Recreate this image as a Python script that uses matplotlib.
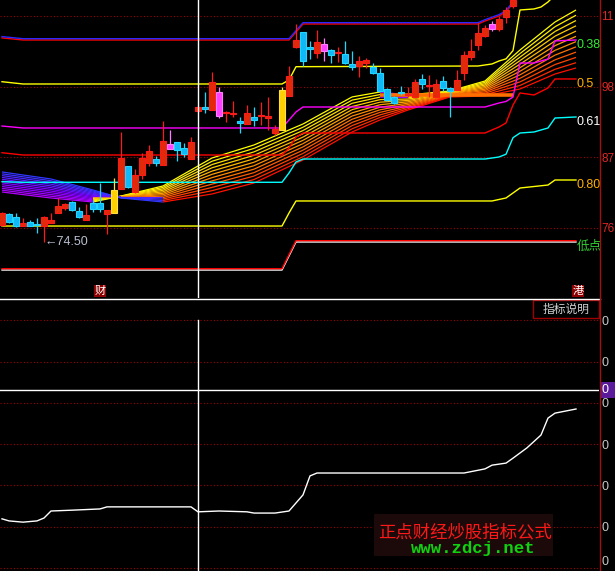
import numpy as np
import matplotlib
matplotlib.use("Agg")
import matplotlib.pyplot as plt
import matplotlib.transforms as mtransforms
from matplotlib.collections import LineCollection
from matplotlib.patches import Rectangle
from matplotlib.lines import Line2D

plt.rcParams['font.family'] = ['DejaVu Sans', 'Noto Sans CJK SC']
MONO = ['Liberation Mono', 'DejaVu Sans Mono', 'Noto Sans CJK SC']
NUM = ['Liberation Sans', 'DejaVu Sans', 'Noto Sans CJK SC']

# ---- candles (price) ----
opens = [77.17, 78.90, 78.43, 77.01, 77.64, 77.20, 77.01, 77.49, 79.06, 79.85,
         80.79, 79.37, 77.96, 80.63, 80.63, 78.90, 79.06, 82.83, 86.45, 82.36,
         85.04, 86.92, 87.55, 86.61, 89.13, 90.23, 89.29, 87.55, 95.10, 95.73,
         95.26, 98.09, 94.79, 94.63, 93.53, 93.06, 94.16, 94.32, 94.00, 91.64,
         92.12, 97.46, 105.17, 107.53, 105.17, 104.23, 104.54, 104.70, 104.23, 104.07,
         102.50, 102.18, 102.65, 102.03, 101.08, 98.56, 97.31, 97.94, 97.60, 97.31,
         100.14, 99.00, 97.31, 99.82, 98.72, 98.41, 101.08, 103.60, 105.49, 106.90,
         108.00, 108.00, 109.89, 111.62]
highs = [79.20, 79.06, 79.06, 78.27, 77.96, 78.27, 78.59, 79.06, 81.42, 80.63,
         80.90, 80.00, 80.48, 81.10, 83.78, 79.60, 84.57, 91.80, 86.50, 85.98,
         88.50, 89.76, 88.03, 93.53, 92.12, 90.30, 90.07, 91.01, 95.90, 98.09,
         101.24, 98.88, 95.10, 96.68, 94.16, 96.05, 95.73, 96.52, 97.31, 92.90,
         98.88, 102.18, 108.79, 107.60, 106.12, 107.85, 106.59, 104.80, 105.17, 106.12,
         104.54, 103.76, 103.44, 102.65, 101.87, 98.70, 97.46, 99.04, 98.88, 100.14,
         100.92, 100.77, 100.14, 100.61, 98.80, 101.55, 104.54, 106.43, 108.95, 108.63,
         109.26, 110.05, 111.46, 113.19]
lows = [77.00, 77.49, 76.90, 77.01, 77.01, 75.91, 74.50, 77.49, 79.06, 79.53,
        79.40, 78.30, 77.96, 79.22, 79.22, 75.76, 79.06, 82.83, 82.99, 82.21,
        84.41, 86.45, 86.45, 86.61, 89.13, 87.24, 87.87, 87.55, 94.90, 94.79,
        95.26, 94.00, 93.37, 94.16, 91.64, 93.06, 92.74, 92.90, 92.12, 91.40,
        92.12, 97.46, 105.00, 102.18, 103.28, 103.44, 102.97, 102.65, 102.81, 102.50,
        101.55, 100.45, 101.87, 100.92, 98.10, 96.68, 96.20, 97.62, 97.31, 97.31,
        98.56, 97.31, 97.31, 98.25, 94.16, 98.41, 99.98, 103.13, 104.70, 106.74,
        107.69, 107.69, 108.95, 111.30]
closes = [79.06, 77.64, 77.01, 77.49, 77.01, 77.10, 78.43, 77.96, 80.16, 80.48,
          79.53, 78.43, 78.74, 79.69, 79.69, 79.53, 82.68, 87.71, 83.15, 85.04,
          87.71, 88.81, 86.92, 90.39, 89.91, 88.97, 88.34, 90.23, 95.73, 95.42,
          99.67, 94.32, 94.85, 94.70, 93.22, 94.79, 93.69, 94.38, 94.32, 92.27,
          98.41, 100.61, 106.27, 102.97, 104.86, 105.96, 105.64, 103.91, 104.30, 102.65,
          102.03, 102.97, 103.13, 101.08, 98.25, 96.83, 96.36, 97.88, 97.70, 99.67,
          99.35, 99.10, 99.35, 98.72, 98.25, 99.98, 103.91, 104.54, 107.37, 108.16,
          108.79, 109.58, 110.99, 112.56]
kinds = list("rccrccrrrr" "ccrccryrcr" "rrcrmccrrc" "rmrrcrcrrr" "yrrccrmcrc"
             "crrcccccrr" "crrccrrrrr" "mrrr")

# ---- level lines (bar index, price) ----
hi_idx = [0, 3, 41, 43, 68, 69, 71, 72, 73, 74]
hi_val = [106.60, 106.27, 106.27, 108.79, 108.79, 109.26, 110.05, 110.68, 112.09, 113.35]
l236_idx = [0, 3, 40, 41, 42, 68, 70, 71, 72, 73, 74, 76, 77, 78, 79]
l236_val = [99.71, 99.35, 99.35, 99.98, 102.07, 102.18, 102.50, 102.97, 103.30, 104.60,
            110.99, 111.15, 111.46, 112.25, 113.35]
l382_idx = [0, 3, 40, 41, 42, 43, 69, 71, 72, 73, 74, 76, 78, 79, 82]
l382_val = [92.74, 92.43, 92.43, 93.69, 94.95, 95.73, 95.73, 96.36, 96.60, 97.30,
            102.65, 102.65, 103.28, 106.12, 106.27]
l500_idx = [0, 3, 40, 41, 42, 43, 69, 70, 71, 72, 73, 74, 76, 78, 79, 82]
l500_val = [88.54, 88.18, 88.18, 89.28, 91.01, 91.64, 91.64, 92.12, 92.59, 93.22,
            96.05, 97.94, 97.62, 98.72, 100.14, 100.14]
l618_idx = [0, 3, 40, 41, 42, 43, 69, 71, 72, 73, 74, 76, 78, 79, 82]
l618_val = [83.98, 83.89, 83.89, 85.35, 87.08, 87.55, 87.55, 87.87, 88.30, 90.90,
            91.64, 91.80, 92.43, 94.00, 94.16]
l800_idx = [0, 40, 41, 42, 70, 72, 74, 78, 79, 82]
l800_val = [77.01, 77.01, 79.06, 80.95, 80.95, 81.42, 82.99, 83.46, 84.25, 84.25]
low_idx = [0, 40, 42, 82]
low_val = [70.09, 70.09, 74.50, 74.50]
band_idx = [54, 73]
band_val = [97.55, 97.55]

# ---- moving-average fan ----
fan_idx = [0, 7, 13, 17, 23, 30, 36, 43, 50, 54, 58, 64, 69, 74, 79, 82]
fan_lines = [
    [82.36, 81.42, 80.79, 81.73, 83.31, 87.71, 89.76, 93.06, 97.31, 98.09, 97.62, 98.25, 99.82, 104.70, 109.10, 110.99],
    [82.65, 81.69, 80.96, 81.70, 83.08, 87.20, 89.22, 92.55, 96.81, 97.69, 97.41, 98.16, 99.61, 104.14, 108.36, 110.16],
    [82.93, 81.96, 81.13, 81.67, 82.85, 86.68, 88.67, 92.03, 96.31, 97.29, 97.19, 98.08, 99.39, 103.58, 107.61, 109.33],
    [83.22, 82.24, 81.31, 81.65, 82.62, 86.17, 88.13, 91.52, 95.81, 96.89, 96.98, 97.99, 99.18, 103.03, 106.87, 108.50],
    [83.51, 82.51, 81.48, 81.62, 82.39, 85.65, 87.59, 91.00, 95.31, 96.49, 96.76, 97.91, 98.96, 102.47, 106.12, 107.67],
    [83.79, 82.78, 81.65, 81.59, 82.16, 85.14, 87.04, 90.49, 94.81, 96.09, 96.55, 97.82, 98.75, 101.91, 105.38, 106.84],
    [84.08, 83.05, 81.82, 81.56, 81.94, 84.62, 86.50, 89.97, 94.30, 95.69, 96.33, 97.74, 98.53, 101.35, 104.64, 106.01],
    [84.36, 83.32, 81.99, 81.53, 81.71, 84.11, 85.95, 89.46, 93.80, 95.29, 96.12, 97.65, 98.32, 100.79, 103.89, 105.19],
    [84.65, 83.59, 82.16, 81.50, 81.48, 83.60, 85.41, 88.94, 93.30, 94.89, 95.90, 97.57, 98.10, 100.24, 103.15, 104.36],
    [84.94, 83.87, 82.34, 81.48, 81.25, 83.08, 84.87, 88.43, 92.80, 94.49, 95.69, 97.48, 97.89, 99.68, 102.41, 103.53],
    [85.22, 84.14, 82.51, 81.45, 81.02, 82.57, 84.32, 87.91, 92.30, 94.09, 95.47, 97.40, 97.67, 99.12, 101.66, 102.70],
    [85.51, 84.41, 82.68, 81.42, 80.79, 82.05, 83.78, 87.40, 91.80, 93.69, 95.26, 97.31, 97.46, 98.56, 100.92, 101.87],
]
up_colors = ['#ffff00', '#fff000', '#ffe000', '#ffcc00', '#ffb800', '#ffa000',
             '#ff8c00', '#ff7400', '#ff5c00', '#ff4400', '#ff2c00', '#ff1000']
down_colors = ['#b400ff', '#a800ff', '#9c00ff', '#9000ff', '#8400ff', '#7800ff',
               '#6c10ff', '#6018ff', '#5420ff', '#4828ff', '#3c30ff', '#3038ff']

# ---- lower indicator ----
ind_idx = [0, 1, 3, 5, 6, 7, 10, 14, 15, 27, 28, 31, 35, 36, 39, 41, 43, 44, 45,
           66, 69, 70, 72, 73, 75, 77, 78, 79, 82]
ind_val = [11.9, 11.4, 11.1, 11.4, 12.1, 13.8, 14.0, 14.3, 14.8, 14.8, 13.6, 13.8, 13.6,
           13.3, 13.3, 13.8, 17.7, 22.3, 23.0, 23.0, 24.0, 24.9, 25.4, 26.6, 29.1,
           32.2, 36.3, 37.5, 38.5]

price_ticks = [76.7, 87.82, 98.94, 110.06]
price_labels = ['76', '87', '98', '11']
ind_ticks = [0, 10, 20, 30, 40, 50, 60]
cursor_idx = 28
cursor_ind = 43.1

W, H = 615, 571
fig = plt.figure(figsize=(W / 100, H / 100), dpi=100, facecolor='black')
ax = fig.add_axes([0, 1 - 298 / H, 599 / W, 298 / H], facecolor='black')
ax2 = fig.add_axes([0, 0, 599 / W, 271 / H], facecolor='black')
for a in (ax, ax2):
    a.set_xlim(-2 / 7, 597 / 7)
    for s in a.spines.values():
        s.set_visible(False)
    a.set_xticks([])
    a.yaxis.set_ticks_position('right')
    a.tick_params(axis='y', length=0, pad=1.5)
    a.grid(axis='y', color='#a00000', linestyle=(0, (1, 2)), linewidth=0.8)
    a.set_axisbelow(True)

ax.set_ylim(65.69, 112.56)
ax.set_yticks(price_ticks)
ax.set_yticklabels(price_labels, color='#e02828', fontsize=8.5, family=NUM)

# fan
segs, cols = [], []
for k, line in enumerate(fan_lines):
    for j in range(len(fan_idx) - 1):
        segs.append([(fan_idx[j], line[j]), (fan_idx[j + 1], line[j + 1])])
        cols.append(up_colors[k] if line[j + 1] >= line[j] else down_colors[k])
ax.add_collection(LineCollection(segs, colors=cols, linewidths=0.9))
ax.plot(band_idx, band_val, color='#ff7000', lw=2.6, solid_capstyle='butt')

up1 = mtransforms.offset_copy(ax.transData, fig=fig, x=0, y=1.3, units='dots')
lw = 1.0
ax.plot(hi_idx, hi_val, color='#ff0000', lw=lw)
ax.plot(hi_idx, hi_val, color='#2828ff', lw=lw, transform=up1)
ax.plot(l236_idx, l236_val, color='#ffff00', lw=lw)
ax.plot(l382_idx, l382_val, color='#ff00ff', lw=lw)
ax.plot(l500_idx, l500_val, color='#ff0000', lw=lw)
ax.plot(l618_idx, l618_val, color='#00ffff', lw=lw)
ax.plot(l800_idx, l800_val, color='#ffff00', lw=lw)
ax.plot(low_idx, low_val, color='white', lw=lw)
ax.plot(low_idx, low_val, color='#ff0000', lw=lw, transform=up1)

# candles
face = {'r': '#e02a0a', 'c': '#10b8f8', 'm': '#ff40ff', 'y': '#ffd000'}
edge = {'r': '#ff1a1a', 'c': '#20d8ff', 'm': '#ff80ff', 'y': '#ffe040'}
x = np.arange(len(opens))
o, c = np.array(opens), np.array(closes)
bot = np.minimum(o, c)
hgt = np.maximum(np.abs(c - o), 0.16)
ax.vlines(x, lows, highs, colors=[edge[k] for k in kinds], lw=0.9, zorder=4)
ax.bar(x, hgt, bottom=bot, width=0.76, color=[face[k] for k in kinds],
       edgecolor=[edge[k] for k in kinds], linewidth=0.8, zorder=5)

ax.axvline(cursor_idx, color='white', lw=1.0, zorder=6)

# labels at right end of levels
def tag(txt, val, col):
    ax.annotate(txt, xy=(82, val), xytext=(1, -5), textcoords='offset pixels',
                color=col, fontsize=9, family=NUM, va='center', ha='left',
                annotation_clip=False)

tag('0.38', l382_val[-1], '#30ee30')
tag('0.5', l500_val[-1], '#ffb000')
tag('0.61', l618_val[-1], 'white')
tag('0.80', l800_val[-1], '#ffb000')
tag('低点', low_val[-1], '#30d030')

ax.text(6.1, 74.50, '←74.50', color='#b8c0d0', fontsize=9,
        family=['Liberation Sans', 'DejaVu Sans'], va='center', ha='left')

bt = mtransforms.blended_transform_factory(ax.transData, ax.transAxes)
for xi, ch in [(14, '财'), (82.3, '港')]:
    ax.text(xi, 0.023, ch, transform=bt, color='white', fontsize=8, ha='center',
            va='center', bbox=dict(facecolor='#8b0000', edgecolor='none', pad=0.6))

# lower panel
ax2.set_ylim(-0.73, 64.9)
ax2.set_yticks(ind_ticks)
ax2.set_yticklabels(['0'] * len(ind_ticks), color='#c8c8c8', fontsize=9, family=NUM)
ax2.get_yticklabels()[0].set_verticalalignment('bottom')
ax2.plot(ind_idx, ind_val, color='white', lw=1.0)
ax2.axvline(cursor_idx, ymax=251 / 271, color='white', lw=1.0)
ax2.axhline(cursor_ind, color='white', lw=1.0)

# frame pieces
fig.add_artist(Line2D([0, 600 / W], [1 - 299 / H] * 2, color='white', lw=1.0))
fig.add_artist(Line2D([599.5 / W] * 2, [0, 1], color='#a01010', lw=1.0))
fig.add_artist(Rectangle((533 / W, 1 - 318 / H), 66 / W, 18 / H, facecolor='black',
                         edgecolor='#a00000', lw=1.0))
fig.text(566 / W, 1 - 309 / H, '指标说明', color='#d0d0d0', fontsize=8.5,
         ha='center', va='center')
fig.add_artist(Rectangle((600 / W, 1 - 398 / H), 15 / W, 16 / H, facecolor='#5a1a9a',
                         edgecolor='none'))
fig.text(602 / W, 1 - 390 / H, '0', color='white', fontsize=9, family=NUM,
         ha='left', va='center')

# watermark
fig.add_artist(Rectangle((374 / W, 1 - 556 / H), 179 / W, 42 / H, facecolor='#1c0a0a',
                         edgecolor='none'))
fig.text(465 / W, 1 - 532 / H, '正点财经炒股指标公式', color='#ff1818', fontsize=12.5,
         ha='center', va='center', family=['Noto Sans CJK SC'])
fig.text(473 / W, 1 - 548 / H, 'www.zdcj.net', color='#10d010', fontsize=12.5,
         ha='center', va='center', family=MONO, fontweight='bold')

fig.savefig('out.png', dpi=100, facecolor='black')
